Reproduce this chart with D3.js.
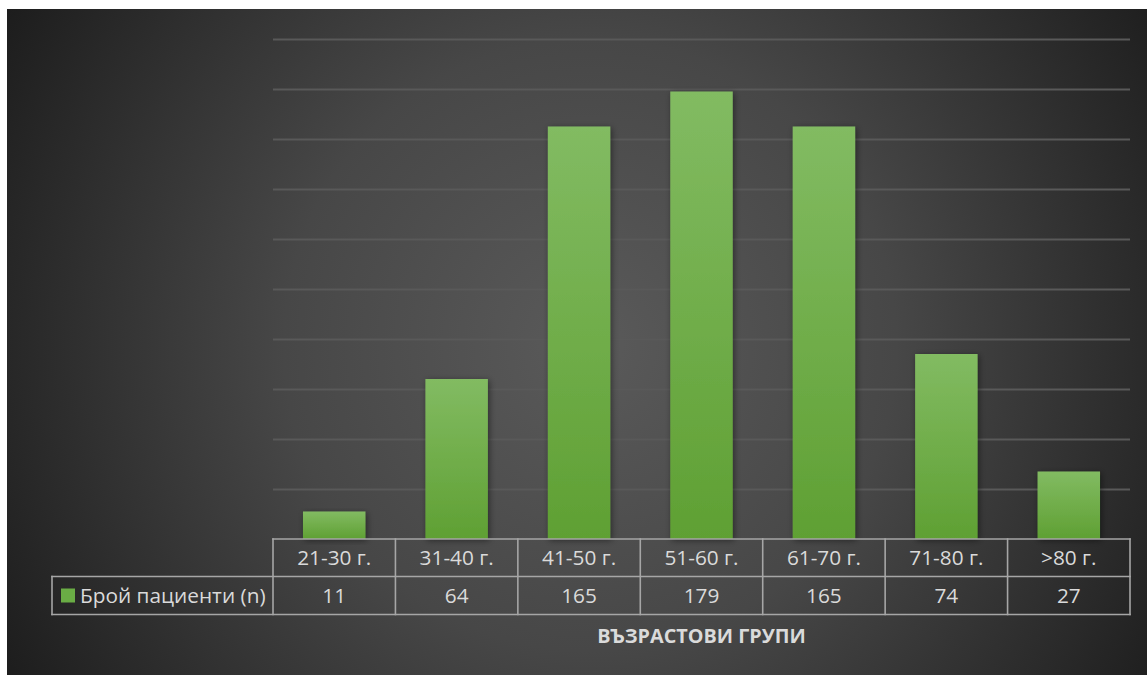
<!DOCTYPE html>
<html>
<head>
<meta charset="utf-8">
<script src="https://cdn.jsdelivr.net/npm/d3@7"></script>
<style>
  html, body { margin: 0; padding: 0; background: #ffffff; }
  svg { display: block; }
</style>
</head>
<body>
<div id="chart"></div>
<script>
// Age groups and patient counts
const categories = ["21-30 г.", "31-40 г.", "41-50 г.", "51-60 г.", "61-70 г.", "71-80 г.", ">80 г."];
const patients = [11, 64, 165, 179, 165, 74, 27];
const seriesName = "Брой пациенти (n)";
const axisTitle = "ВЪЗРАСТОВИ ГРУПИ";
const yTicks = [20, 40, 60, 80, 100, 120, 140, 160, 180, 200];

const W = 1147, H = 675;
const frame = { x: 7, y: 9, w: 1140, h: 666 };
const plot = { left: 273, right: 1130, top: 39, bottom: 539 };
const rowH = [37.5, 38];
const legendLeft = 52;
const font = "'Open Sans', 'DejaVu Sans', sans-serif";
const textColor = "#dadada";
const lineColor = "#a6a6a6";

const svg = d3.select("#chart").append("svg")
  .attr("width", W).attr("height", H);

const defs = svg.append("defs");

// Dark radial backdrop
const bg = defs.append("radialGradient")
  .attr("id", "bgGrad")
  .attr("gradientUnits", "userSpaceOnUse")
  .attr("cx", 590).attr("cy", 345).attr("r", 680);
bg.append("stop").attr("offset", "0").attr("stop-color", "#5a5a5a");
bg.append("stop").attr("offset", "0.45").attr("stop-color", "#474747");
bg.append("stop").attr("offset", "1").attr("stop-color", "#1c1c1c");

// Bar fill: lighter green at top
const barGrad = defs.append("linearGradient")
  .attr("id", "barGrad").attr("x1", 0).attr("y1", 0).attr("x2", 0).attr("y2", 1);
barGrad.append("stop").attr("offset", "0").attr("stop-color", "#82bb62");
barGrad.append("stop").attr("offset", "1").attr("stop-color", "#5fa033");

const shadow = defs.append("filter").attr("id", "barShadow")
  .attr("x", "-30%").attr("y", "-10%").attr("width", "160%").attr("height", "130%");
shadow.append("feDropShadow")
  .attr("dx", 1.5).attr("dy", 1.5).attr("stdDeviation", 3)
  .attr("flood-color", "#000").attr("flood-opacity", 0.45);

svg.append("rect")
  .attr("x", frame.x).attr("y", frame.y)
  .attr("width", frame.w).attr("height", frame.h)
  .attr("fill", "url(#bgGrad)");

// Scales
const x = d3.scaleBand()
  .domain(categories)
  .range([plot.left, plot.right])
  .paddingInner(0.49)
  .paddingOuter(0.245);

const xCell = d3.scaleBand()
  .domain(categories)
  .range([plot.left, plot.right])
  .padding(0);

const y = d3.scaleLinear()
  .domain([0, 200])
  .range([plot.bottom, plot.top]);

// Horizontal gridlines
svg.append("g").selectAll("line")
  .data(yTicks)
  .join("line")
  .attr("x1", plot.left).attr("x2", plot.right)
  .attr("y1", d => Math.round(y(d)) + 0.5)
  .attr("y2", d => Math.round(y(d)) + 0.5)
  .attr("stroke", "#595959")
  .attr("stroke-width", 2);

// Bars
svg.append("g").selectAll("rect")
  .data(patients)
  .join("rect")
  .attr("x", (d, i) => x(categories[i]))
  .attr("width", x.bandwidth())
  .attr("y", d => y(d))
  .attr("height", d => y(0) - y(d))
  .attr("fill", "url(#barGrad)")
  .attr("filter", "url(#barShadow)");

// Data table under the plot
const table = svg.append("g");
const row1Top = plot.bottom, row1Bot = plot.bottom + rowH[0], row2Bot = row1Bot + rowH[1];

const tableLines = [
  // horizontal rules
  [plot.left, row1Top, plot.right, row1Top],
  [legendLeft, row1Bot, plot.right, row1Bot],
  [legendLeft, row2Bot, plot.right, row2Bot],
  // left border of legend cell
  [legendLeft, row1Bot, legendLeft, row2Bot]
];
categories.forEach(c => {
  tableLines.push([xCell(c), row1Top, xCell(c), row2Bot]);
});
tableLines.push([plot.right, row1Top, plot.right, row2Bot]);

table.selectAll("line")
  .data(tableLines)
  .join("line")
  .attr("x1", d => d[0]).attr("y1", d => d[1])
  .attr("x2", d => d[2]).attr("y2", d => d[3])
  .attr("stroke", lineColor)
  .attr("stroke-width", 1.6)
  .attr("stroke-linecap", "square");

// Category labels
table.append("g").selectAll("text")
  .data(categories)
  .join("text")
  .attr("x", d => xCell(d) + xCell.bandwidth() / 2)
  .attr("y", row1Top + 25.5)
  .attr("text-anchor", "middle")
  .attr("font-family", font)
  .attr("font-size", 20.8)
  .attr("fill", textColor)
  .text(d => d);

// Values row
table.append("g").selectAll("text")
  .data(patients)
  .join("text")
  .attr("x", (d, i) => xCell(categories[i]) + xCell.bandwidth() / 2)
  .attr("y", row1Bot + 26.5)
  .attr("text-anchor", "middle")
  .attr("font-family", font)
  .attr("font-size", 20.8)
  .attr("fill", textColor)
  .text(d => d);

// Legend key in the table
table.append("rect")
  .attr("x", 61).attr("y", row1Bot + 12)
  .attr("width", 14).attr("height", 14)
  .attr("fill", "#6aad45");

table.append("text")
  .attr("x", 80)
  .attr("y", row1Bot + 26.5)
  .attr("font-family", font)
  .attr("font-size", 20.8)
  .attr("fill", textColor)
  .text(seriesName);

// Axis title
svg.append("text")
  .attr("x", (plot.left + plot.right) / 2)
  .attr("y", 642.5)
  .attr("text-anchor", "middle")
  .attr("font-family", font)
  .attr("font-weight", "bold")
  .attr("font-size", 19.8)
  .attr("fill", textColor)
  .text(axisTitle);
</script>
</body>
</html>
